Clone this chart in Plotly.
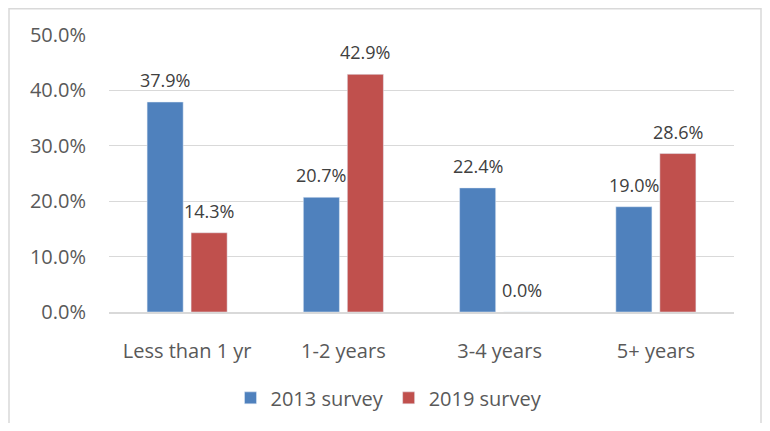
import plotly.graph_objects as go

categories = ["Less than 1 yr", "1-2 years", "3-4 years", "5+ years"]
survey_2013 = [37.9, 20.7, 22.4, 19.0]
survey_2019 = [14.3, 42.9, 0.0, 28.6]
series_names = ["2013 survey", "2019 survey"]
y_ticks = [0, 10, 20, 30, 40, 50]

BLUE = "#4F81BD"
RED = "#C0504D"
FONT = "Open Sans"

fig = go.Figure()
fig.add_trace(go.Bar(x=categories, y=survey_2013, name=series_names[0], marker_color=BLUE))
fig.add_trace(go.Bar(x=categories, y=survey_2019, name=series_names[1], marker_color=RED))

annotations = []
for vals, shift in ((survey_2013, -22), (survey_2019, 22)):
    for c, v in zip(categories, vals):
        annotations.append(dict(
            x=c, y=v, xref="x", yref="y", xshift=shift, yshift=8,
            text=f"{v:.1f}%", showarrow=False, yanchor="bottom",
            font=dict(family=FONT, size=18, color="#404040"),
        ))

fig.update_layout(
    width=754, height=415,
    margin=dict(l=101, r=28, t=27, b=111, autoexpand=False),
    paper_bgcolor="white", plot_bgcolor="white",
    barmode="group", bargap=0.437, bargroupgap=0.18,
    font=dict(family=FONT, size=18, color="#595959"),
    showlegend=True,
    legend=dict(orientation="h", x=0.448, xanchor="center", y=-0.31, yanchor="middle",
                font=dict(family=FONT, size=20, color="#595959"),
                itemwidth=30, traceorder="normal"),
    annotations=annotations,
    shapes=[dict(type="rect", xref="paper", yref="paper",
                 x0=-0.16, x1=1.0432, y0=-0.6, y1=1.0948,
                 line=dict(color="#d9d9d9", width=1.5), fillcolor="rgba(0,0,0,0)", layer="below")],
)
fig.update_yaxes(range=[0, 50], tickvals=y_ticks, ticktext=[f"{t:.1f}%" for t in y_ticks],
                 showgrid=True, gridcolor="#d9d9d9", gridwidth=1,
                 zeroline=False, showline=False, ticks="", ticklabelstandoff=22,
                 tickfont=dict(family=FONT, size=20, color="#595959"))
fig.update_xaxes(showgrid=False, showline=True, linecolor="#d9d9d9", linewidth=1.5,
                 ticks="", ticklabelstandoff=20,
                 tickfont=dict(family=FONT, size=20, color="#595959"))

fig.write_html("out.html")
